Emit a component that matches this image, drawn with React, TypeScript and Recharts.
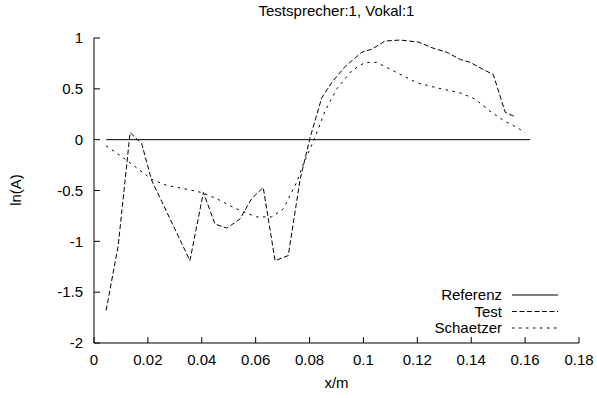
import { Line, LineChart, XAxis, YAxis } from "recharts";

const xTicks = [0, 0.02, 0.04, 0.06, 0.08, 0.1, 0.12, 0.14, 0.16, 0.18];
const yTicks = [-2, -1.5, -1, -0.5, 0, 0.5, 1];

const referenzX = [0.0045, 0.1618];
const referenzY = [0, 0];

const testX = [
  0.0045, 0.009, 0.0134, 0.0177, 0.0214, 0.0356, 0.0406, 0.0449, 0.0493, 0.0542, 0.0585, 0.0628, 0.0672, 0.0721,
  0.0765, 0.0802, 0.0845, 0.0882, 0.0932, 0.0994, 0.1031, 0.108, 0.1136, 0.1204, 0.1259, 0.1309, 0.1359, 0.1396,
  0.1445, 0.1482, 0.1526, 0.1566,
];
const testY = [
  -1.68, -1.04, 0.07, -0.04, -0.4, -1.19, -0.52, -0.83, -0.87, -0.78, -0.58, -0.47, -1.19, -1.14, -0.39, 0.02, 0.41,
  0.56, 0.72, 0.86, 0.89, 0.97, 0.98, 0.96, 0.9, 0.86, 0.79, 0.76, 0.69, 0.64, 0.27, 0.22,
];

const schaetzerX = [
  0.0045, 0.0115, 0.0214, 0.027, 0.0331, 0.04, 0.0455, 0.0505, 0.0554, 0.0604, 0.066, 0.0703, 0.0752, 0.0777, 0.082,
  0.0857, 0.0901, 0.0957, 0.1006, 0.1049, 0.1124, 0.1198, 0.1272, 0.1359, 0.1414, 0.147, 0.1519, 0.1569, 0.16,
];
const schaetzerY = [
  -0.06, -0.19, -0.39, -0.45, -0.48, -0.52, -0.58, -0.65, -0.71, -0.76, -0.76, -0.68, -0.42, -0.24, 0.02, 0.28, 0.5,
  0.68, 0.76, 0.76, 0.66, 0.56, 0.51, 0.46, 0.4, 0.28, 0.19, 0.12, 0.07,
];

const FONT = "'Liberation Sans', Arial, sans-serif";
const tickStyle = { fill: "#000", fontSize: 15, fontFamily: FONT };

function toPoints(xs: number[], ys: number[]) {
  return xs.map((x, i) => ({ x, y: ys[i] }));
}

const seriesList = [
  { name: "Referenz", data: toPoints(referenzX, referenzY), dash: undefined as string | undefined },
  { name: "Test", data: toPoints(testX, testY), dash: "5 2.5" },
  { name: "Schaetzer", data: toPoints(schaetzerX, schaetzerY), dash: "2.5 4.5" },
];

// legend in the bottom right corner, inside the plot frame
function PlotLegend() {
  return (
    <svg width={200} height={60} style={{ position: "absolute", left: 378, top: 289, overflow: "visible" }}>
      {seriesList.map((s, i) => (
        <g key={s.name}>
          <text x={124} y={11 + i * 16.5} textAnchor="end" fontSize={15} fontFamily={FONT} fill="#000">
            {s.name}
          </text>
          <line x1={134} x2={180} y1={6 + i * 16.5} y2={6 + i * 16.5} stroke="#000" strokeDasharray={s.dash} />
        </g>
      ))}
    </svg>
  );
}

export default function App() {
  return (
    <div style={{ position: "absolute", left: 0, top: 0, width: 597, height: 398, background: "#fff" }}>
      <div
        style={{
          position: "absolute",
          left: 0,
          width: 673,
          top: 2,
          textAlign: "center",
          fontFamily: FONT,
          fontSize: 15,
        }}
      >
        Testsprecher:1, Vokal:1
      </div>
      <div
        style={{
          position: "absolute",
          left: 0,
          top: 374,
          width: 673,
          textAlign: "center",
          fontFamily: FONT,
          fontSize: 15,
        }}
      >
        x/m
      </div>
      <div
        style={{
          position: "absolute",
          left: 15,
          top: 190,
          transform: "translate(-50%, -50%) rotate(-90deg)",
          fontFamily: FONT,
          fontSize: 15,
          whiteSpace: "nowrap",
        }}
      >
        ln(A)
      </div>
      <LineChart width={597} height={398} margin={{ top: 38, right: 18, bottom: 0, left: 0 }}>
        <XAxis
          dataKey="x"
          type="number"
          domain={[0, 0.18]}
          ticks={xTicks}
          allowDataOverflow
          height={55}
          stroke="#000"
          tickSize={-6}
          tickMargin={17}
          tick={tickStyle}
        />
        <XAxis
          xAxisId="top"
          orientation="top"
          dataKey="x"
          type="number"
          domain={[0, 0.18]}
          ticks={xTicks}
          height={0}
          stroke="#000"
          tickSize={-6}
          tick={false}
        />
        <YAxis
          type="number"
          domain={[-2, 1]}
          ticks={yTicks}
          allowDataOverflow
          width={94}
          stroke="#000"
          tickSize={-6}
          tickMargin={17}
          tick={tickStyle}
        />
        <YAxis
          yAxisId="right"
          orientation="right"
          type="number"
          domain={[-2, 1]}
          ticks={yTicks}
          width={0}
          stroke="#000"
          tickSize={-6}
          tick={false}
        />
        {seriesList.map((s) => (
          <Line
            key={s.name}
            name={s.name}
            data={s.data}
            dataKey="y"
            type="linear"
            stroke="#000"
            strokeWidth={1}
            strokeDasharray={s.dash}
            dot={false}
            activeDot={false}
            isAnimationActive={false}
          />
        ))}
      </LineChart>
      <PlotLegend />
    </div>
  );
}
